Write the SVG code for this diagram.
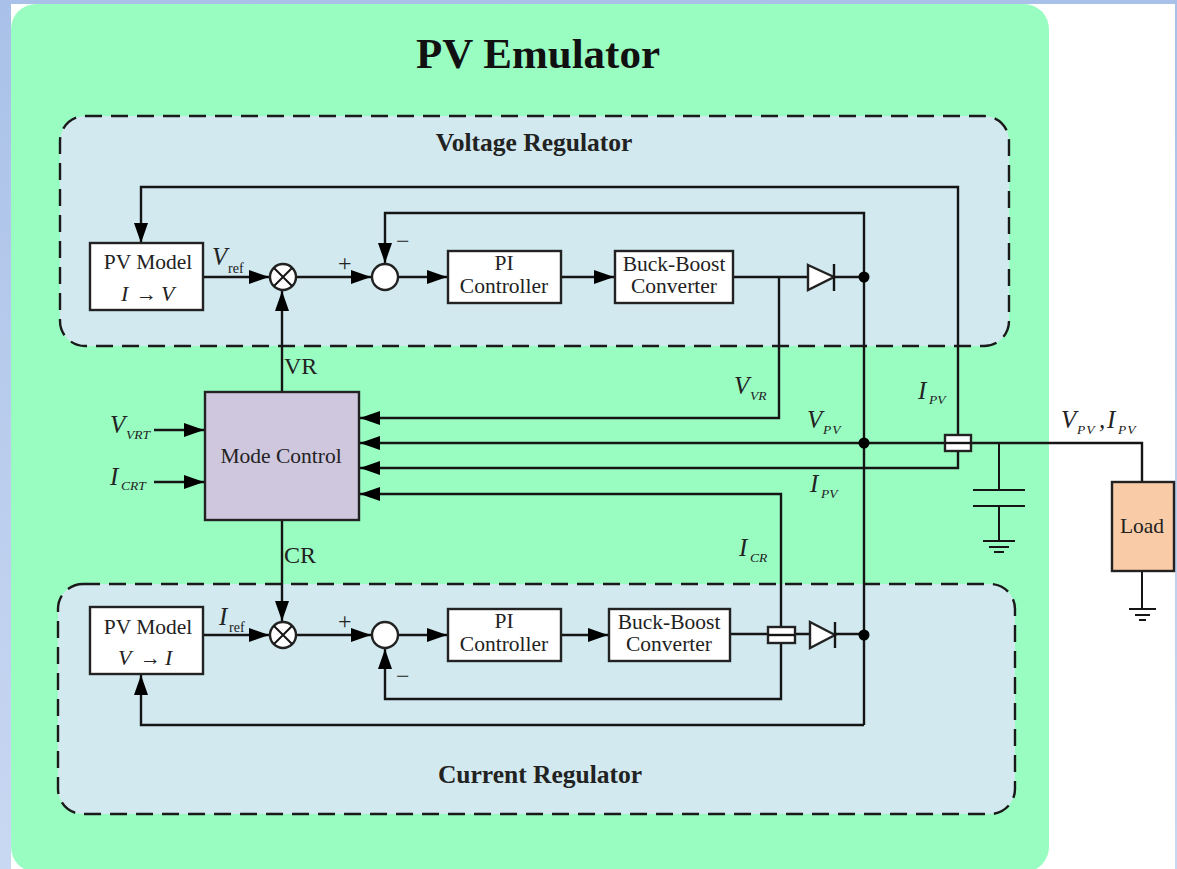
<svg xmlns="http://www.w3.org/2000/svg" width="1177" height="869" viewBox="0 0 1177 869">
<style>
text{font-family:"Liberation Serif","Times New Roman",serif;fill:#222}
.l{fill:none;stroke:#151515;stroke-width:2.4}
.t{fill:none;stroke:#151515;stroke-width:2}
.b{fill:#fff;stroke:#222;stroke-width:2.4}
.d{fill:#d1e9ef;stroke:#1a1a1a;stroke-width:2.4;stroke-dasharray:17 9}
.n{font-size:21.5px;text-anchor:middle}
.i{font-style:italic;font-size:25px}
.m{font-style:italic;font-size:22px}
.s{font-style:italic;font-size:13.5px}
.r{font-size:14px}
.p{font-size:24px}
.h{font-weight:bold;font-size:25.5px;text-anchor:middle}
.j{fill:#000}
</style>
<defs>
<linearGradient id="side" x1="0" y1="0" x2="0" y2="1"><stop offset="0" stop-color="#a9c1e8"/><stop offset="1" stop-color="#c9d8f2"/></linearGradient>
<marker id="a" markerUnits="userSpaceOnUse" markerWidth="21" markerHeight="15" refX="20" refY="7.5" orient="auto"><path d="M0 0.5L20 7.5L0 14.500Z" fill="#000"/></marker>
</defs>
<rect width="1177" height="869" fill="url(#side)"/>
<rect x="11" y="4" width="1164" height="865" fill="#fff"/>
<rect id="emulator" x="11" y="4" width="1038" height="868" rx="25" fill="#99fdc2"/>
<text x="538" y="68" font-weight="bold" font-size="43" text-anchor="middle" style="fill:#111">PV Emulator</text>
<g id="voltage-regulator"><rect class="d" x="60" y="116" width="949" height="230" rx="25"/><text class="h" x="534" y="151">Voltage Regulator</text></g>
<g id="current-regulator"><rect class="d" x="58" y="584" width="957" height="230" rx="25"/><text class="h" x="540" y="783">Current Regulator</text></g>
<g id="connectors">
<path class="l" marker-end="url(#a)" d="M958 434V187H141V243"/>
<path class="l" marker-end="url(#a)" d="M864 277V213H385V263"/>
<path class="l" marker-end="url(#a)" d="M203 277H269"/>
<path class="l" marker-end="url(#a)" d="M297 277H371"/>
<path class="l" marker-end="url(#a)" d="M398 277H447"/>
<path class="l" marker-end="url(#a)" d="M561 277H614"/>
<path class="l" d="M733 277H808M833 277H864"/>
<path class="l" marker-end="url(#a)" d="M282 392V291"/>
<path class="l" marker-end="url(#a)" d="M779 277V418H360"/>
<path class="l" marker-end="url(#a)" d="M945 443H360"/>
<path class="l" d="M971 443H1142V482"/>
<path class="l" marker-end="url(#a)" d="M958 451V468H360"/>
<path class="l" marker-end="url(#a)" d="M781 627V494H360"/>
<path class="l" d="M864 277V725"/>
<path class="l" marker-end="url(#a)" d="M864 725H141V675"/>
<path class="l" marker-end="url(#a)" d="M154 430H204"/>
<path class="l" marker-end="url(#a)" d="M154 482H204"/>
<path class="l" marker-end="url(#a)" d="M282 520V621"/>
<path class="l" marker-end="url(#a)" d="M203 635H269"/>
<path class="l" marker-end="url(#a)" d="M297 635H371"/>
<path class="l" marker-end="url(#a)" d="M398 635H447"/>
<path class="l" marker-end="url(#a)" d="M561 635H608"/>
<path class="l" d="M730 634H810M835 634H864"/>
<path class="l" marker-end="url(#a)" d="M781 643V699H385V649"/>
<path class="t" d="M999 443V490M973 490H1025M973 506H1025M999 506V541"/>
<path class="t" d="M983 541H1015M989 547H1009M994 552H1004"/>
<path class="t" d="M1142 571V609M1129 609H1156M1135 615H1150M1139 620H1146"/>
</g>
<g id="pv-model-top"><rect class="b" x="90" y="243" width="113" height="67"/><text class="n" x="148" y="269">PV Model</text><text class="m" x="121" y="301">I</text><text x="136" y="301" font-size="22" textLength="21" lengthAdjust="spacingAndGlyphs">→</text><text class="m" x="161" y="301">V</text></g>
<g id="mult-top"><circle class="b" cx="283" cy="277" r="13"/><path class="t" d="M274 268L292 286M292 268L274 286"/></g>
<g id="sum-top"><circle class="b" cx="385" cy="277" r="13"/></g>
<g id="pi-top"><rect class="b" x="448" y="251" width="113" height="52"/><text class="n" x="504" y="270">PI</text><text class="n" x="504" y="293">Controller</text></g>
<g id="buck-top"><rect class="b" x="615" y="251" width="118" height="52"/><text class="n" x="674" y="271">Buck-Boost</text><text class="n" x="674" y="293">Converter</text></g>
<g id="diode-top"><path class="b" d="M808 265L834 277L808 290Z"/><path class="l" d="M834 264V291"/></g>
<circle id="junction-top" class="j" cx="864" cy="277" r="5.500"/>
<g id="mode-control"><rect x="205" y="392" width="154" height="128" fill="#cfc7de" stroke="#222" stroke-width="2.4"/><text class="n" x="281" y="463">Mode Control</text></g>
<circle id="junction-mid" class="j" cx="864" cy="443" r="5.500"/>
<g id="sensor-pv"><rect class="b" x="945" y="435" width="26" height="16"/><path class="l" d="M945 443H971"/></g>
<g id="load"><rect x="1112" y="482" width="62" height="89" fill="#f9cba6" stroke="#222" stroke-width="2.4"/><text class="n" x="1142" y="533">Load</text></g>
<g id="pv-model-bottom"><rect class="b" x="90" y="607" width="113" height="67"/><text class="n" x="148" y="634">PV Model</text><text class="m" x="118" y="665">V</text><text x="140" y="665" font-size="22" textLength="21" lengthAdjust="spacingAndGlyphs">→</text><text class="m" x="165" y="665">I</text></g>
<g id="mult-bottom"><circle class="b" cx="283" cy="635" r="13"/><path class="t" d="M274 626L292 644M292 626L274 644"/></g>
<g id="sum-bottom"><circle class="b" cx="385" cy="635" r="13"/></g>
<g id="pi-bottom"><rect class="b" x="448" y="609" width="113" height="52"/><text class="n" x="504" y="628">PI</text><text class="n" x="504" y="651">Controller</text></g>
<g id="buck-bottom"><rect class="b" x="609" y="609" width="121" height="52"/><text class="n" x="669" y="629">Buck-Boost</text><text class="n" x="669" y="651">Converter</text></g>
<g id="sensor-cr"><rect class="b" x="768" y="627" width="27" height="16"/><path class="l" d="M768 635H795"/></g>
<g id="diode-bottom"><path class="b" d="M810 622L835 635L810 648Z"/><path class="l" d="M835 622V648"/></g>
<circle id="junction-bottom" class="j" cx="864" cy="635" r="5.500"/>
<g id="labels">
<text class="i" x="212" y="265">V</text><text class="r" x="228" y="273">ref</text>
<text class="i" x="219" y="625">I</text><text class="r" x="229" y="632">ref</text>
<text class="p" x="338" y="271">+</text><text class="p" x="396" y="249">−</text>
<text class="p" x="338" y="629">+</text><text class="p" x="396" y="684">−</text>
<text x="284" y="374" font-size="24">VR</text><text x="284" y="563" font-size="24">CR</text>
<text class="i" x="734" y="394">V</text><text class="s" x="750" y="400">VR</text>
<text class="i" x="918" y="399">I</text><text class="s" x="929" y="404">PV</text>
<text class="i" x="807" y="428">V</text><text class="s" x="823" y="434" letter-spacing="1">PV</text>
<text class="i" x="810" y="492">I</text><text class="s" x="821" y="498">PV</text>
<text class="i" x="739" y="556">I</text><text class="s" x="750" y="562">CR</text>
<text class="i" x="110" y="433">V</text><text class="s" x="126" y="439">VRT</text>
<text class="i" x="110" y="485">I</text><text class="s" x="121" y="490">CRT</text>
<text class="i" x="1061" y="428">V</text><text class="s" x="1077" y="434" letter-spacing="1">PV</text><text class="i" x="1099" y="428">,</text><text class="i" x="1107" y="428">I</text><text class="s" x="1118" y="434" letter-spacing="1">PV</text>
</g>
</svg>
